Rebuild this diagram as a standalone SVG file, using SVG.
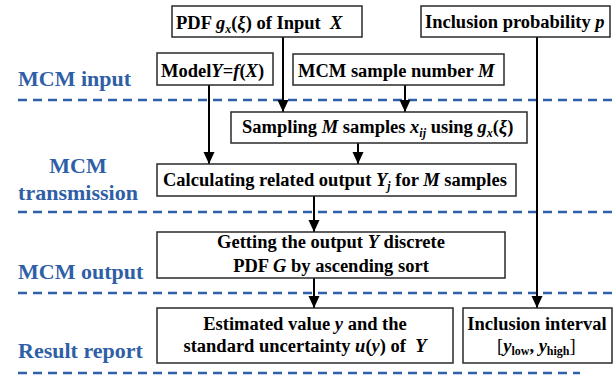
<svg xmlns="http://www.w3.org/2000/svg" width="616" height="376" viewBox="0 0 616 376">
<defs>
<style>
.box{fill:#fff;stroke:#2a2a2a;stroke-width:1.5}
.t{font-family:'Liberation Serif','Times New Roman','DejaVu Serif',serif;font-weight:bold;font-size:18.5px;fill:#000;white-space:pre}
.c{text-anchor:middle}
.i{font-style:italic}
.s{font-size:12px}
.n{font-weight:normal}
.lab{font-family:'Liberation Serif','Times New Roman','DejaVu Serif',serif;font-weight:bold;font-size:22px;fill:#2f5fa7}
.dash{stroke:#2f5fa7;stroke-width:2.5;stroke-dasharray:9 6;fill:none}
.arr{stroke:#000;stroke-width:2;fill:none;marker-end:url(#ah)}
</style>
<marker id="ah" markerUnits="userSpaceOnUse" markerWidth="12" markerHeight="12" refX="12" refY="6" orient="auto">
<path d="M0,0.5 L12,6 L0,11.5 z" fill="#000"/>
</marker>
</defs>

<g id="stage-labels">
<text class="lab" x="18" y="86">MCM input</text>
<text class="lab" x="78" y="173" text-anchor="middle">MCM</text>
<text class="lab" x="78" y="200" text-anchor="middle">transmission</text>
<text class="lab" x="18" y="279">MCM output</text>
<text class="lab" x="18" y="358">Result report</text>
</g>

<g id="separators">
<line class="dash" x1="18" y1="100" x2="616" y2="100"/>
<line class="dash" x1="18" y1="212" x2="616" y2="212"/>
<line class="dash" x1="18" y1="293" x2="616" y2="293"/>
<line class="dash" x1="18" y1="373" x2="580" y2="373"/>
</g>

<g id="connectors">
<line class="arr" x1="283" y1="37" x2="283" y2="112"/>
<line class="arr" x1="405" y1="85" x2="405" y2="112"/>
<line class="arr" x1="209" y1="85" x2="209" y2="164"/>
<line class="arr" x1="358" y1="143" x2="358" y2="164"/>
<line class="arr" x1="314" y1="196" x2="314" y2="232"/>
<line class="arr" x1="314" y1="278" x2="314" y2="308"/>
<line class="arr" x1="537" y1="37" x2="537" y2="308"/>
</g>

<g id="pdf-input">
<rect class="box" x="172" y="6" width="190" height="31"/>
<text class="t" x="176" y="29">PDF <tspan class="i">g</tspan><tspan class="i s" dy="4">x</tspan><tspan dy="-4">(</tspan><tspan class="i">ξ</tspan>) of Input  <tspan class="i">X</tspan></text>
</g>

<g id="inclusion-probability">
<rect class="box" x="421" y="6" width="189" height="31"/>
<text class="t" x="425" y="28">Inclusion probability <tspan class="i">p</tspan></text>
</g>

<g id="model">
<rect class="box" x="157" y="53" width="116" height="32"/>
<text class="t" x="161" y="77">Model<tspan class="i">Y</tspan>=<tspan class="i">f</tspan>(<tspan class="i">X</tspan>)</text>
</g>

<g id="sample-number">
<rect class="box" x="293" y="54" width="211" height="31"/>
<text class="t" x="298" y="77">MCM sample number <tspan class="i">M</tspan></text>
</g>

<g id="sampling">
<rect class="box" x="231" y="112" width="296" height="31"/>
<text class="t" x="242" y="133">Sampling <tspan class="i">M</tspan> samples <tspan class="i">x</tspan><tspan class="i s" dy="4">ij</tspan><tspan dy="-4"> using </tspan><tspan class="i">g</tspan><tspan class="i s" dy="4">x</tspan><tspan dy="-4">(</tspan><tspan class="i">ξ</tspan>)</text>
</g>

<g id="calculating">
<rect class="box" x="157" y="164" width="359" height="32"/>
<text class="t" x="163" y="186">Calculating related output <tspan class="i">Y</tspan><tspan class="i s" dy="4">j</tspan><tspan dy="-4"> for </tspan><tspan class="i">M</tspan> samples</text>
</g>

<g id="getting-output">
<rect class="box" x="157" y="232" width="348" height="46"/>
<text class="t c" x="331" y="248">Getting the output <tspan class="i">Y</tspan> discrete</text>
<text class="t c" x="331" y="272">PDF <tspan class="i">G</tspan> by ascending sort</text>
</g>

<g id="estimated-value">
<rect class="box" x="157" y="308" width="296" height="55"/>
<text class="t c" x="305" y="330">Estimated value <tspan class="i">y</tspan> and the</text>
<text class="t c" x="305" y="352">standard uncertainty <tspan class="i">u</tspan>(<tspan class="i">y</tspan>) of  <tspan class="i">Y</tspan></text>
</g>

<g id="inclusion-interval">
<rect class="box" x="463" y="308" width="149" height="55"/>
<text class="t c" x="537" y="330">Inclusion interval</text>
<text class="t" x="497" y="352"><tspan class="n">[</tspan><tspan class="i">y</tspan><tspan class="s" dy="3">low</tspan><tspan dy="-3">, </tspan><tspan class="i">y</tspan><tspan class="s" dy="3">high</tspan><tspan class="n" dy="-3">]</tspan></text>
</g>
</svg>
